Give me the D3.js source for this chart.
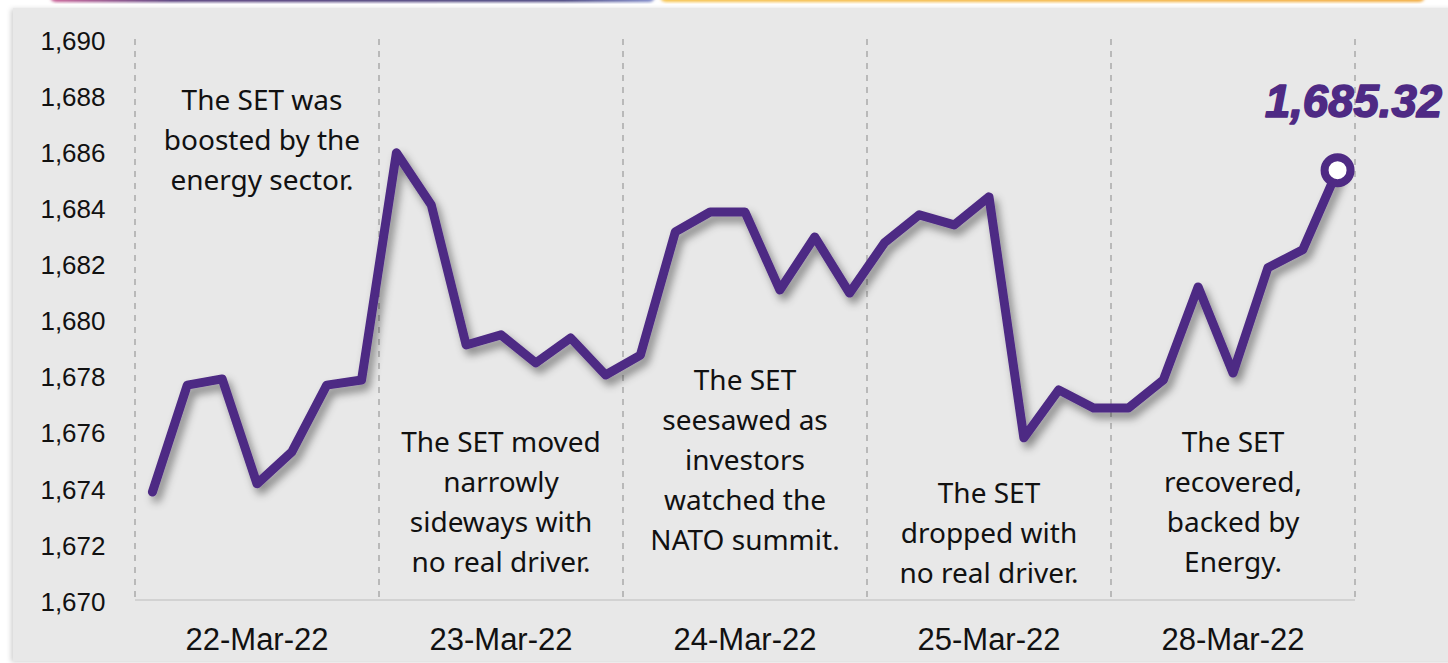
<!DOCTYPE html>
<html>
<head>
<meta charset="utf-8">
<script src="https://cdn.jsdelivr.net/npm/d3@7"></script>
<style>
  html, body { margin: 0; padding: 0; background: #ffffff; }
  svg { display: block; }
</style>
</head>
<body>
<svg id="chart" width="1448" height="663"></svg>
<script>
// ---- Data ----
const days = ["22-Mar-22", "23-Mar-22", "24-Mar-22", "25-Mar-22", "28-Mar-22"];
const pointsPerDay = 7;
const setValues = [
  1673.85, 1677.66, 1677.88, 1674.14, 1675.28, 1677.66, 1677.84,
  1685.94, 1684.08, 1679.09, 1679.45, 1678.45, 1679.34, 1678.02,
  1678.73, 1683.12, 1683.83, 1683.83, 1681.05, 1682.94, 1680.94,
  1682.73, 1683.73, 1683.37, 1684.37, 1675.78, 1677.49, 1676.84,
  1676.84, 1677.84, 1681.16, 1678.09, 1681.84, 1682.48, 1685.32
];
const yTicks = [1670, 1672, 1674, 1676, 1678, 1680, 1682, 1684, 1686, 1688, 1690];
const notes = [
  ["The SET was", "boosted by the", "energy sector."],
  ["The SET moved", "narrowly", "sideways with", "no real driver."],
  ["The SET", "seesawed as", "investors", "watched the", "NATO summit."],
  ["The SET", "dropped with", "no real driver."],
  ["The SET", "recovered,", "backed by", "Energy."]
];
const noteStartValue = [1687.47, 1675.28, 1677.5, 1673.45, 1675.28]; // value level of first baseline
const lastLabel = "1,685.32";

// ---- Layout ----
const svg = d3.select("#chart");
const W = 1448, H = 663;
const plot = { left: 135, right: 1355, top: 38.9, bottom: 600 };
const purple = "#4e2a84";

const defs = svg.append("defs");
const shadow = defs.append("filter").attr("id", "lineShadow")
  .attr("x", "-10%").attr("y", "-10%").attr("width", "130%").attr("height", "130%");
shadow.append("feDropShadow").attr("dx", 4).attr("dy", 6).attr("stdDeviation", 4)
  .attr("flood-color", "#000").attr("flood-opacity", 0.42);

const panelShadow = defs.append("filter").attr("id", "panelShadow")
  .attr("x", "-5%").attr("y", "-5%").attr("width", "110%").attr("height", "110%");
panelShadow.append("feDropShadow").attr("dx", -2).attr("dy", 1).attr("stdDeviation", 2.5)
  .attr("flood-color", "#000").attr("flood-opacity", 0.18);

const blur = defs.append("filter").attr("id", "soft");
blur.append("feGaussianBlur").attr("stdDeviation", 1.6);

const gLeft = defs.append("linearGradient").attr("id", "gLeft");
gLeft.append("stop").attr("offset", "0%").attr("stop-color", "#c85a92");
gLeft.append("stop").attr("offset", "20%").attr("stop-color", "#4a2f72");
gLeft.append("stop").attr("offset", "85%").attr("stop-color", "#3e3a78");
gLeft.append("stop").attr("offset", "100%").attr("stop-color", "#7a86c8");
const gRight = defs.append("linearGradient").attr("id", "gRight");
gRight.append("stop").attr("offset", "0%").attr("stop-color", "#f6c24a");
gRight.append("stop").attr("offset", "100%").attr("stop-color", "#f2a93a");

// header strips peeking at top
svg.append("rect").attr("x", 50).attr("y", -10).attr("width", 605).attr("height", 12)
  .attr("rx", 6).attr("fill", "url(#gLeft)").attr("filter", "url(#soft)");
svg.append("rect").attr("x", 660).attr("y", -10).attr("width", 765).attr("height", 12)
  .attr("rx", 6).attr("fill", "url(#gRight)").attr("filter", "url(#soft)");

// panel
svg.append("rect").attr("x", 13).attr("y", 8).attr("width", W - 13 + 10).attr("height", H - 8 - 2)
  .attr("fill", "#e8e8e8").attr("filter", "url(#panelShadow)");

// ---- Scales ----
const idx = d3.range(setValues.length);
const x = d3.scaleBand().domain(idx).range([plot.left, plot.right]).paddingInner(0).paddingOuter(0);
const xDay = d3.scaleBand().domain(days).range([plot.left, plot.right]);
const y = d3.scaleLinear().domain([1670, 1690]).range([plot.bottom, plot.top]);
const cx = i => x(i) + x.bandwidth() / 2;

// dashed day separators
const seps = days.map(d => xDay(d)).concat([plot.right]);
svg.append("g").selectAll("line").data(seps).join("line")
  .attr("x1", d => d).attr("x2", d => d)
  .attr("y1", plot.top).attr("y2", plot.bottom)
  .attr("stroke", "#a9a9a9").attr("stroke-width", 1.5).attr("stroke-dasharray", "6,6");

// x axis baseline
svg.append("line").attr("x1", plot.left).attr("x2", plot.right)
  .attr("y1", plot.bottom).attr("y2", plot.bottom)
  .attr("stroke", "#d2d2d2").attr("stroke-width", 2);

// y axis labels
const yAxis = d3.axisLeft(y).tickValues(yTicks).tickFormat(d3.format(",")).tickSize(0).tickPadding(0);
const yg = svg.append("g").attr("transform", `translate(105.5,2)`).call(yAxis);
yg.select(".domain").remove();
yg.selectAll("text").attr("font-family", "'Liberation Sans', Arial, sans-serif")
  .attr("font-size", 26).attr("fill", "#111");

// x axis labels
const xAxis = d3.axisBottom(xDay).tickSize(0).tickPadding(0);
const xg = svg.append("g").attr("transform", `translate(0,${plot.bottom})`).call(xAxis);
xg.select(".domain").remove();
xg.selectAll("text").attr("font-family", "'Liberation Sans', Arial, sans-serif")
  .attr("font-size", 31).attr("fill", "#111").attr("dy", null).attr("y", 50);

// annotations
const noteG = svg.append("g").attr("font-family", "'Noto Sans', 'Open Sans', sans-serif")
  .attr("font-size", 28).attr("fill", "#111").attr("text-anchor", "middle");
notes.forEach((lines, k) => {
  const nx = xDay(days[k]) + xDay.bandwidth() / 2 + (k === 0 ? 5 : 0);
  const t = noteG.append("text").attr("x", nx).attr("y", y(noteStartValue[k]));
  lines.forEach((ln, j) => {
    t.append("tspan").attr("x", nx).attr("dy", j === 0 ? 0 : 40).text(ln);
  });
});

// line
const line = d3.line().x((d, i) => cx(i)).y(d => y(d)).curve(d3.curveLinear);
svg.append("path").datum(setValues).attr("d", line)
  .attr("fill", "none").attr("stroke", purple).attr("stroke-width", 9)
  .attr("stroke-linejoin", "round").attr("stroke-linecap", "round")
  .attr("filter", "url(#lineShadow)");

// end marker
const last = setValues.length - 1;
svg.append("circle").attr("cx", cx(last)).attr("cy", y(setValues[last]))
  .attr("r", 13).attr("fill", "#ffffff").attr("stroke", purple).attr("stroke-width", 8);

// end label
svg.append("text").attr("x", 1442).attr("y", y(setValues[last]) - 53)
  .attr("text-anchor", "end")
  .attr("font-family", "'Liberation Sans', Arial, sans-serif").attr("font-weight", "bold")
  .attr("font-style", "italic").attr("font-size", 45.5).attr("fill", purple)
  .attr("stroke", purple).attr("stroke-width", 1.6).attr("stroke-linejoin", "round")
  .text(lastLabel);
</script>
</body>
</html>
